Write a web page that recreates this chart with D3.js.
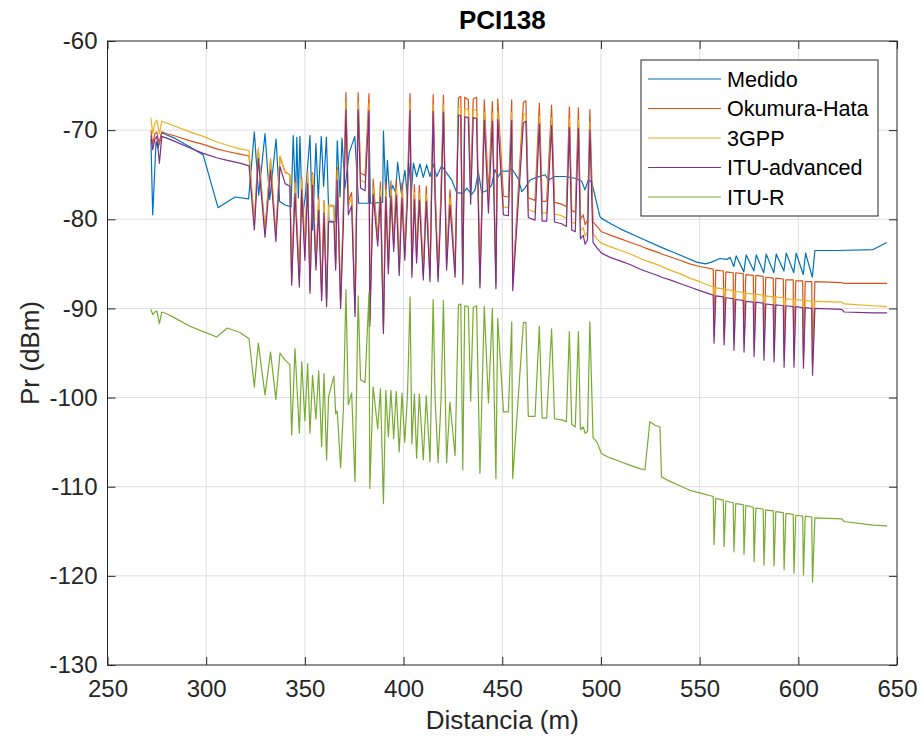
<!DOCTYPE html>
<html>
<head>
<meta charset="utf-8">
<script src="https://cdn.jsdelivr.net/npm/d3@7/dist/d3.min.js"></script>
<style>
	body { margin: 0; background: #fff; }
</style>
</head>
<body>
<div id="chart"></div>
<script>
/******************************data***************************************/
var distModelo = [272.0, 272.9, 274.0, 275.0, 276.3, 277.5, 280.0, 283.5, 291.8, 298.5, 305.3, 310.7, 317.1, 321.7,
	324.4, 326.4, 329.8, 332.6, 335.3, 337.4, 340.0, 342.4, 343.3, 345.0, 347.2, 348.4, 350.0, 351.4, 352.6, 353.9,
	355.6, 357.0, 358.5, 359.7, 361.0, 362.0, 364.7, 365.6, 366.4, 368.1, 369.5, 370.8, 372.0, 373.7, 375.4, 377.0,
	378.2, 380.5, 382.5, 382.9, 384.6, 386.9, 388.3, 389.8, 391.0, 392.3, 393.6, 395.0, 396.3, 397.8, 399.2, 400.6,
	402.0, 403.3, 404.2, 405.5, 406.6, 408.0, 410.0, 411.5, 413.4, 415.0, 416.0, 417.5, 419.0, 420.2, 421.8, 423.5,
	426.1, 427.8, 429.0, 430.0, 431.0, 432.8, 434.0, 435.3, 437.0, 438.7, 440.9, 443.0, 445.0, 446.8, 447.7, 450.6,
	453.1, 454.8, 455.3, 460.7, 462.0, 463.2, 466.6, 468.8, 470.2, 472.5, 475.0, 476.5, 480.1, 482.5, 484.0, 485.2,
	487.0, 488.6, 489.6, 491.0, 492.0, 493.2, 494.4, 496.0, 498.0, 500.3, 505.0, 510.0, 515.0, 520.0, 522.3, 524.8,
	527.4, 529.9, 530.7, 535.0, 540.0, 545.0, 550.0, 556.9, 557.3, 558.2, 562.0, 562.4, 563.3, 567.0, 567.4, 568.3,
	572.1, 572.5, 573.4, 577.2, 577.6, 578.5, 582.2, 582.6, 583.5, 587.3, 587.7, 588.6, 592.4, 592.8, 593.7, 597.4,
	597.8, 598.7, 602.2, 602.6, 603.5, 606.8, 607.2, 608.4, 622.0, 623.2, 638.0, 645.0];

var okumura = [-70.0, -71.6, -70.4, -70.2, -71.6, -70.2, -70.4, -70.6, -71.2, -71.6, -72.1, -72.4, -72.7, -72.9,
	-80.4, -72.2, -81.2, -73.3, -81.8, -73.0, -74.7, -75.0, -86.6, -75.6, -86.8, -75.3, -83.8, -74.6, -87.5, -74.8,
	-84.9, -77.5, -88.3, -77.9, -89.0, -78.5, -78.5, -84.9, -74.2, -89.2, -78.8, -65.8, -78.0, -77.0, -90.0, -65.8,
	-74.8, -75.1, -65.9, -91.2, -75.5, -82.2, -75.8, -92.0, -75.8, -85.3, -75.7, -82.8, -75.6, -85.5, -75.9, -83.8,
	-76.0, -65.9, -85.7, -76.1, -84.1, -76.2, -86.0, -76.3, -86.2, -66.0, -76.4, -86.2, -76.5, -66.1, -84.9, -76.7,
	-85.7, -66.4, -66.2, -86.5, -66.3, -66.6, -76.6, -66.5, -66.3, -86.9, -66.6, -77.2, -66.8, -87.0, -66.5, -77.4,
	-77.5, -66.6, -87.2, -66.9, -66.7, -77.6, -77.9, -67.0, -78.0, -78.0, -67.2, -78.1, -78.3, -78.6, -67.4, -79.0,
	-79.2, -67.5, -80.0, -79.5, -80.6, -80.1, -67.7, -80.3, -80.8, -81.4, -81.8, -82.2, -82.6, -83.0, -83.2, -83.4,
	-83.6, -83.8, -83.9, -84.2, -84.6, -85.0, -85.3, -85.6, -92.4, -85.7, -85.8, -92.6, -85.9, -86.0, -93.2, -86.0,
	-86.1, -93.4, -86.2, -86.3, -93.9, -86.3, -86.4, -94.3, -86.5, -86.6, -94.5, -86.6, -86.7, -95.1, -86.8, -86.8,
	-95.1, -86.9, -86.9, -95.2, -87.0, -87.0, -96.0, -87.0, -87.1, -87.2, -87.2, -87.2];

var tresGPP = [-68.6, -70.4, -69.2, -68.9, -70.4, -69.0, -69.2, -69.5, -70.2, -70.7, -71.3, -71.7, -72.1, -72.3,
	-80.8, -72.0, -81.6, -73.2, -82.1, -72.9, -74.8, -75.0, -87.0, -75.9, -87.2, -75.5, -84.2, -74.8, -87.9, -75.0,
	-85.3, -77.8, -88.7, -78.1, -89.4, -78.4, -78.4, -85.3, -74.5, -89.6, -79.0, -66.9, -78.5, -77.5, -90.4, -66.9,
	-75.6, -75.9, -67.0, -91.6, -76.4, -82.6, -76.7, -92.4, -76.7, -85.7, -76.6, -83.2, -76.5, -85.9, -76.8, -84.2,
	-76.9, -67.0, -86.1, -77.0, -84.5, -77.1, -86.4, -77.2, -86.6, -67.1, -77.3, -86.6, -77.4, -67.2, -85.3, -77.6,
	-86.1, -67.5, -67.4, -86.9, -67.6, -67.7, -77.4, -67.7, -67.8, -87.3, -68.0, -78.3, -68.1, -87.4, -67.9, -78.6,
	-78.7, -68.0, -87.6, -68.3, -68.1, -78.9, -79.2, -68.4, -79.3, -79.3, -68.6, -79.4, -79.6, -79.9, -68.8, -80.3,
	-80.5, -68.9, -81.3, -80.9, -81.9, -81.4, -69.1, -81.6, -82.2, -82.7, -83.1, -83.5, -83.9, -84.4, -84.6, -84.8,
	-85.0, -85.2, -85.3, -85.7, -86.1, -86.6, -87.0, -87.6, -93.1, -87.7, -87.8, -93.3, -87.9, -88.0, -93.9, -88.1,
	-88.2, -94.1, -88.3, -88.4, -94.6, -88.4, -88.5, -95.0, -88.6, -88.7, -95.2, -88.7, -88.8, -95.8, -88.9, -89.0,
	-95.8, -89.0, -89.1, -95.9, -89.1, -89.2, -96.7, -89.2, -89.3, -89.5, -89.7, -89.8];

var ituAdvanced = [-70.6, -72.2, -71.0, -70.7, -73.7, -70.7, -70.9, -71.2, -72.0, -72.6, -73.1, -73.4, -73.7, -74.0,
	-81.2, -73.2, -82.0, -74.5, -82.5, -74.1, -76.0, -76.3, -87.4, -77.1, -87.6, -76.7, -84.6, -76.0, -88.3, -76.2,
	-85.7, -79.0, -89.1, -79.3, -89.8, -80.3, -80.3, -85.7, -75.6, -90.0, -80.5, -67.7, -79.5, -78.5, -90.9, -67.7,
	-76.5, -76.8, -67.8, -92.0, -77.2, -83.0, -77.5, -92.8, -77.5, -86.1, -77.4, -83.6, -77.3, -86.3, -77.6, -84.6,
	-77.7, -67.8, -86.5, -77.8, -84.9, -77.9, -86.8, -78.0, -87.0, -67.9, -78.1, -87.0, -78.2, -68.0, -85.7, -78.4,
	-86.5, -68.3, -68.4, -87.3, -68.5, -68.6, -78.3, -68.6, -68.7, -87.7, -68.9, -79.3, -69.0, -87.8, -68.8, -79.5,
	-79.6, -68.9, -88.0, -69.2, -69.0, -79.8, -80.1, -69.3, -80.2, -80.2, -69.5, -80.3, -80.5, -80.8, -69.7, -81.2,
	-81.4, -69.8, -82.2, -81.8, -82.8, -82.3, -70.0, -82.6, -83.2, -83.8, -84.3, -84.7, -85.1, -85.6, -85.8, -86.0,
	-86.2, -86.4, -86.5, -86.8, -87.2, -87.6, -88.0, -88.5, -93.9, -88.6, -88.7, -94.1, -88.8, -88.9, -94.7, -89.0,
	-89.1, -94.9, -89.2, -89.3, -95.4, -89.3, -89.4, -95.8, -89.5, -89.6, -96.0, -89.6, -89.7, -96.6, -89.7, -89.8,
	-96.6, -89.8, -89.9, -96.7, -89.9, -90.0, -97.5, -90.0, -90.1, -90.4, -90.5, -90.5];

var ituR = [-90.1, -90.7, -90.4, -90.3, -91.7, -90.4, -90.6, -91.0, -92.0, -92.6, -93.2, -92.2, -92.7, -93.4,
	-98.8, -93.9, -99.7, -94.9, -100.2, -95.0, -95.8, -96.3, -104.2, -94.5, -104.0, -96.0, -102.6, -96.2, -104.0, -97.5,
	-102.4, -97.0, -105.5, -97.3, -107.0, -99.9, -97.6, -101.8, -101.5, -107.9, -101.4, -87.9, -100.8, -99.5, -109.4, -88.6,
	-98.0, -98.3, -88.2, -110.2, -98.8, -103.5, -99.0, -111.9, -99.2, -104.4, -99.2, -104.6, -99.3, -106.1, -99.5, -105.0,
	-99.7, -88.7, -105.2, -99.6, -106.8, -99.6, -107.0, -99.8, -107.2, -89.0, -100.2, -107.3, -100.3, -89.1, -107.3, -100.5,
	-106.5, -89.6, -89.5, -108.1, -89.7, -89.8, -100.4, -89.9, -89.7, -108.5, -89.8, -100.6, -90.0, -109.1, -91.1, -101.6,
	-101.6, -91.5, -109.1, -91.6, -91.6, -102.1, -102.1, -92.0, -102.3, -102.3, -92.3, -102.4, -102.5, -102.7, -92.6, -103.0,
	-103.3, -92.6, -103.6, -103.3, -104.0, -103.8, -91.5, -104.5, -105.0, -106.3, -106.8, -107.2, -107.6, -108.0, -108.1, -102.7,
	-103.1, -103.3, -108.9, -109.4, -109.9, -110.4, -110.7, -111.1, -116.5, -111.3, -111.5, -116.7, -111.6, -111.8, -117.3, -111.9,
	-112.0, -117.6, -112.1, -112.3, -118.4, -112.4, -112.5, -118.8, -112.6, -112.7, -118.9, -112.8, -112.9, -119.3, -113.0, -113.1,
	-119.7, -113.2, -113.3, -119.9, -113.3, -113.4, -120.7, -113.5, -113.6, -113.9, -114.3, -114.4];

var distMedido = [272.0, 272.9, 274.6, 275.6, 277.4, 284.0, 291.8, 298.5, 306.0, 314.6, 321.5, 324.4, 326.6, 329.8,
	332.2, 335.4, 337.2, 340.0, 343.0, 344.1, 345.3, 345.9, 346.7, 347.5, 348.7, 350.2, 352.6, 353.9, 355.6, 356.8,
	358.3, 359.5, 360.9, 362.2, 365.5, 366.4, 367.8, 368.8, 370.3, 372.5, 375.3, 377.2, 382.2, 382.6, 383.2, 389.4,
	389.8, 391.0, 391.8, 393.0, 394.5, 396.0, 397.0, 398.8, 400.7, 401.8, 402.6, 404.0, 405.0, 406.6, 408.3, 410.0,
	411.7, 413.4, 415.1, 416.8, 419.3, 421.8, 424.4, 426.9, 430.3, 432.0, 434.5, 436.2, 437.9, 439.6, 442.1, 444.6,
	446.3, 447.7, 449.7, 453.1, 454.8, 458.2, 459.9, 461.5, 464.1, 467.4, 471.7, 473.4, 476.7, 481.8, 486.9, 490.2,
	491.9, 493.6, 495.3, 499.5, 500.3, 505.0, 510.0, 520.0, 530.0, 540.0, 548.5, 553.0, 556.0, 560.3, 563.7, 565.5,
	567.3, 568.5, 572.4, 573.6, 577.5, 578.7, 582.5, 583.7, 587.6, 588.8, 592.7, 593.9, 597.7, 598.9, 602.5, 603.7,
	607.1, 608.4, 620.0, 638.0, 644.7];

var medido = [-71.0, -79.5, -71.3, -72.0, -70.3, -70.9, -71.9, -72.8, -78.7, -77.5, -77.7, -70.2, -77.3, -70.4,
	-77.8, -71.0, -78.0, -78.4, -78.6, -70.6, -78.0, -70.8, -77.6, -70.7, -79.7, -77.5, -70.6, -81.2, -71.5, -77.8,
	-70.7, -76.3, -70.8, -80.2, -80.3, -71.2, -77.5, -70.9, -76.5, -72.5, -70.7, -78.2, -78.2, -70.3, -78.2, -78.1,
	-70.1, -77.3, -73.4, -77.5, -76.2, -77.0, -73.6, -77.0, -74.5, -77.2, -73.7, -76.9, -73.7, -75.2, -73.8, -75.3,
	-73.9, -75.2, -73.8, -75.2, -74.0, -74.8, -75.6, -77.0, -77.1, -76.5, -77.2, -76.7, -74.7, -77.0, -76.8, -76.2,
	-74.4, -75.3, -74.6, -74.6, -74.3, -75.5, -76.9, -76.5, -75.6, -75.3, -75.0, -75.6, -75.2, -75.2, -75.4, -75.7,
	-76.7, -75.6, -75.8, -79.7, -79.9, -80.5, -81.1, -82.1, -83.1, -84.0, -84.8, -85.0, -84.8, -84.4, -84.5, -84.3,
	-85.3, -84.1, -85.9, -84.0, -85.8, -84.0, -86.0, -83.9, -86.0, -83.9, -85.8, -83.8, -86.0, -83.8, -86.2, -83.8,
	-86.5, -83.5, -83.5, -83.4, -82.6];

var series = ["Medido", "Okumura-Hata", "3GPP", "ITU-advanced", "ITU-R"];
var colores = ["#0072BD", "#D95319", "#EDB120", "#7E2F8E", "#77AC30"];
var xTicks = [250, 300, 350, 400, 450, 500, 550, 600, 650];
var yTicks = [-130, -120, -110, -100, -90, -80, -70, -60];

/******************************draw chart***************************************/
function lineChart(div){
	var width = 922,
		height = 742;
	var left = 107.5, right = 897, top = 41, bottom = 665;
	var axisColor = "#262626";

	var svg = d3.select(div).append("svg")
		.attr("width", width)
		.attr("height", height)
		.style("background-color", "white")
		.style("font-family", "'Liberation Sans', Arial, Helvetica, sans-serif");

	var x = d3.scaleLinear().domain([250, 650]).range([left, right]);
	var y = d3.scaleLinear().domain([-130, -60]).range([bottom, top]);

	// grid
	var grid = svg.append("g").attr("class", "grid");
	grid.selectAll(".gx")
		.data(xTicks.slice(1, -1))
		.enter().append("line")
		.attr("x1", function(d) { return x(d); })
		.attr("x2", function(d) { return x(d); })
		.attr("y1", top)
		.attr("y2", bottom)
		.style("stroke", "#dedede")
		.style("stroke-width", 1);
	grid.selectAll(".gy")
		.data(yTicks.slice(1, -1))
		.enter().append("line")
		.attr("x1", left)
		.attr("x2", right)
		.attr("y1", function(d) { return y(d); })
		.attr("y2", function(d) { return y(d); })
		.style("stroke", "#dedede")
		.style("stroke-width", 1);

	var datos = [
		{ name: series[0], xs: distMedido, ys: medido },
		{ name: series[1], xs: distModelo, ys: okumura },
		{ name: series[2], xs: distModelo, ys: tresGPP },
		{ name: series[3], xs: distModelo, ys: ituAdvanced },
		{ name: series[4], xs: distModelo, ys: ituR }
	];

	var line = d3.line()
		.x(function(d) { return x(d[0]); })
		.y(function(d) { return y(d[1]); });

	svg.append("g").selectAll(".serie")
		.data(datos)
		.enter().append("path")
		.attr("class", "serie")
		.style("fill", "none")
		.style("stroke", function(d, i) { return colores[i]; })
		.style("stroke-width", 1.2)
		.style("stroke-linejoin", "round")
		.attr("d", function(d) {
			return line(d.xs.map(function(v, i) { return [v, d.ys[i]]; }));
		});

	// axes, ticks inside on all four sides
	var fmt = function(d) { return String(d); };
	svg.append("g").attr("transform", "translate(0," + bottom + ")")
		.call(d3.axisBottom(x).tickValues(xTicks).tickFormat(fmt).tickSizeInner(-8).tickSizeOuter(0).tickPadding(15));
	svg.append("g").attr("transform", "translate(" + left + ",0)")
		.call(d3.axisLeft(y).tickValues(yTicks).tickFormat(fmt).tickSizeInner(-8).tickSizeOuter(0).tickPadding(10));
	svg.append("g").attr("transform", "translate(0," + top + ")")
		.call(d3.axisTop(x).tickValues(xTicks).tickSizeInner(-8).tickSizeOuter(0).tickFormat(""));
	svg.append("g").attr("transform", "translate(" + right + ",0)")
		.call(d3.axisRight(y).tickValues(yTicks).tickSizeInner(-8).tickSizeOuter(0).tickFormat(""));

	svg.selectAll(".domain").remove();
	svg.selectAll(".tick line").style("stroke", axisColor);
	svg.selectAll(".tick text")
		.style("fill", axisColor)
		.style("font-size", "24px")
		.style("font-family", "'Liberation Sans', Arial, sans-serif");

	svg.append("rect")
		.attr("x", left)
		.attr("y", top)
		.attr("width", right - left)
		.attr("height", bottom - top)
		.style("fill", "none")
		.style("stroke", axisColor)
		.style("stroke-width", 1);

	// labels
	svg.append("text")
		.attr("x", (left + right) / 2)
		.attr("y", 29)
		.style("text-anchor", "middle")
		.style("font-size", "26px")
		.style("font-weight", "bold")
		.style("fill", "#000")
		.text("PCI138");

	svg.append("text")
		.attr("x", (left + right) / 2)
		.attr("y", 729)
		.style("text-anchor", "middle")
		.style("font-size", "26px")
		.style("fill", axisColor)
		.text("Distancia (m)");

	svg.append("text")
		.attr("transform", "translate(39," + (top + bottom) / 2 + ") rotate(-90)")
		.style("text-anchor", "middle")
		.style("font-size", "26px")
		.style("fill", axisColor)
		.text("Pr (dBm)");

	// legend
	var leg = svg.append("g").attr("transform", "translate(641,60)");
	leg.append("rect")
		.attr("width", 237)
		.attr("height", 156)
		.style("fill", "white")
		.style("stroke", axisColor)
		.style("stroke-width", 1);

	var item = leg.selectAll(".item")
		.data(series)
		.enter().append("g")
		.attr("class", "item")
		.attr("transform", function(d, i) { return "translate(0," + (19 + i * 29.5) + ")"; });

	item.append("line")
		.attr("x1", 7)
		.attr("x2", 80)
		.style("stroke", function(d, i) { return colores[i]; })
		.style("stroke-width", 1.2);

	item.append("text")
		.attr("x", 86)
		.attr("dy", "0.35em")
		.style("font-size", "21.6px")
		.style("fill", "#000")
		.text(function(d) { return d; });
}

lineChart("#chart");
</script>
</body>
</html>
